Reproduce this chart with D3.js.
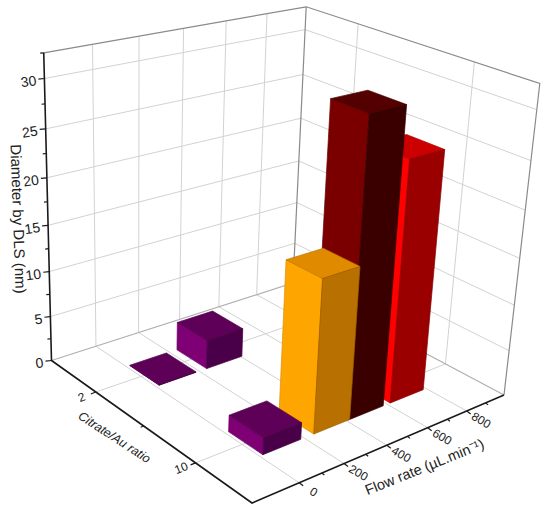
<html>
<head>
  <meta charset="utf-8">
  <script src="https://d3js.org/d3.v7.min.js"></script>
  <style>
    body { margin: 0; background: #fff; }
    text { font-family: "Liberation Sans", Arial, sans-serif; fill: #222; }
  </style>
</head>
<body>
<div id="my_dataviz"></div>
<script>
// bar data, one entry per column
var ratios = [2, 2, 10, 10, 10, 10];
var flows = [100, 320, 700, 495, 330, 100];
var diameters = [0.05, 3.2, 25.6, 31, 16.2, 1.8];
var barColors = [
  ["#7f0075", "#5f0058", "#4a0048"],
  ["#7f0075", "#5f0058", "#4a0048"],
  ["#ff0000", "#cc0000", "#9b0000"],
  ["#7a0000", "#540000", "#3a0000"],
  ["#ffa500", "#e08a00", "#b87000"],
  ["#7f0075", "#5f0058", "#4a0048"]
];

// axis ticks
var zTicks = [0, 5, 10, 15, 20, 25, 30];
var zMinor = [2.5, 7.5, 12.5, 17.5, 22.5, 27.5, 32.5];
var flowTicks = [0, 200, 400, 600, 800];
var flowMinor = [100, 300, 500, 700, 900];
var ratioTicks = [2, 10];
var ratioMinor = [6];

var width = 550, height = 520;
var barFlow = 170, barRatio = 2.5;

var sx = d3.scaleLinear().domain([-2, 14]).range([0, 1]);      // ratio, back corner -> front
var sy = d3.scaleLinear().domain([-200, 1000]).range([1, 0]);  // flow, left -> back corner
var sz = d3.scaleLinear().domain([0, 32.5]).range([0, 1]);

// camera: back floor corner and its three neighbours, with perspective weights
var O = [293, 283], X = [504, 395], Y = [51.5, 360.5], Z = [306.2, 6.8];
var wX = 0.8678, wY = 0.8862, wZ = 0.9235;

function project(ratio, flow, z) {
  var a = sx(ratio), b = sy(flow), c = sz(z);
  var px = O[0] + a * (wX * X[0] - O[0]) + b * (wY * Y[0] - O[0]) + c * (wZ * Z[0] - O[0]);
  var py = O[1] + a * (wX * X[1] - O[1]) + b * (wY * Y[1] - O[1]) + c * (wZ * Z[1] - O[1]);
  var w = 1 + a * (wX - 1) + b * (wY - 1) + c * (wZ - 1);
  return [px / w, py / w];
}

var svg = d3.select("#my_dataviz").append("svg")
  .attr("width", width)
  .attr("height", height);

var line = d3.line();
function seg(g, pts, color, w) {
  g.append("path")
    .attr("d", line(pts))
    .attr("fill", "none")
    .attr("stroke", color)
    .attr("stroke-width", w);
}

var rMin = sx.domain()[0], rMax = sx.domain()[1];
var fMin = sy.domain()[0], fMax = sy.domain()[1];
var zMax = sz.domain()[1];

// grid on the walls and floor
var grid = svg.append("g");
zTicks.slice(1).forEach(function(z) {
  seg(grid, [project(rMin, fMin, z), project(rMin, fMax, z), project(rMax, fMax, z)], "#d2d2d2", 1);
});
flowTicks.forEach(function(f) {
  seg(grid, [project(rMin, f, zMax), project(rMin, f, 0), project(rMax, f, 0)], "#d2d2d2", 1);
});
ratioTicks.forEach(function(r) {
  seg(grid, [project(r, fMax, zMax), project(r, fMax, 0), project(r, fMin, 0)], "#d2d2d2", 1);
});

// wall frame
seg(grid, [project(rMin, fMin, zMax), project(rMin, fMax, zMax), project(rMax, fMax, zMax), project(rMax, fMax, 0)], "#8a8a8a", 1.2);
seg(grid, [project(rMin, fMax, zMax), project(rMin, fMax, 0)], "#8a8a8a", 1.2);
seg(grid, [project(rMin, fMin, 0), project(rMin, fMax, 0), project(rMax, fMax, 0)], "#b0b0b0", 1.2);

// bars, back to front
var bars = svg.append("g");
ratios.forEach(function(r, i) {
  var f = flows[i], h = diameters[i];
  var r0 = r - barRatio / 2, r1 = r + barRatio / 2;
  var f0 = f - barFlow / 2, f1 = f + barFlow / 2;
  var faces = [
    [[r0, f0, 0], [r1, f0, 0], [r1, f0, h], [r0, f0, h]],  // low flow side
    [[r0, f0, h], [r1, f0, h], [r1, f1, h], [r0, f1, h]],  // top
    [[r1, f0, 0], [r1, f1, 0], [r1, f1, h], [r1, f0, h]]   // high ratio side
  ];
  bars.selectAll("path.b" + i)
    .data(faces)
    .enter()
    .append("path")
    .attr("class", "b" + i)
    .attr("d", function(d) {
      return line(d.map(function(p) { return project(p[0], p[1], p[2]); })) + "Z";
    })
    .attr("fill", function(d, j) { return barColors[i][j]; })
    .attr("stroke", function(d, j) { return d3.color(barColors[i][j]).darker(0.4); })
    .attr("stroke-width", 0.7)
    .attr("stroke-linejoin", "round");
});

// axes
var axes = svg.append("g");
seg(axes, [project(rMin, fMin, zMax), project(rMin, fMin, 0), project(rMax, fMin, 0), project(rMax, fMax, 0)], "#1a1a1a", 1.6);

function tickMark(pt, dx, dy) {
  seg(axes, [pt, [pt[0] + dx, pt[1] + dy]], "#1a1a1a", 1.2);
}
zTicks.forEach(function(z) { tickMark(project(rMin, fMin, z), -6, 0.6); });
zMinor.forEach(function(z) { tickMark(project(rMin, fMin, z), -3.5, 0.4); });
flowTicks.forEach(function(f) { tickMark(project(rMax, f, 0), 4, 3); });
flowMinor.forEach(function(f) { tickMark(project(rMax, f, 0), 2.5, 2); });
ratioTicks.forEach(function(r) { tickMark(project(r, fMin, 0), -5, 2); });
ratioMinor.forEach(function(r) { tickMark(project(r, fMin, 0), -3, 1.2); });

function label(txt, x, y, rot, size, style, anchor) {
  svg.append("text")
    .attr("transform", "translate(" + x + "," + y + ") rotate(" + rot + ")")
    .attr("text-anchor", anchor || "middle")
    .attr("dominant-baseline", "middle")
    .style("font-size", size + "px")
    .style("font-style", style || "normal")
    .text(txt);
}

zTicks.forEach(function(z) {
  var p = project(rMin, fMin, z);
  label(z, p[0] - 8, p[1] + 3, -8, 14, "normal", "end");
});
flowTicks.forEach(function(f) {
  var p = project(rMax, f, 0);
  label(f, p[0] + 14, p[1] + 10, 30, 12);
});
ratioTicks.forEach(function(r) {
  var p = project(r, fMin, 0);
  label(r, p[0] - 14, p[1] + 6, -22, 12);
});

label("Diameter by DLS (nm)", 17, 219, 88, 15);
label("Citrate/Au ratio", 114, 438, 33, 12.5, "italic");
label("Flow rate (\u00b5L.min\u207b\u00b9)", 425, 468, -22, 14.5);
</script>
</body>
</html>
